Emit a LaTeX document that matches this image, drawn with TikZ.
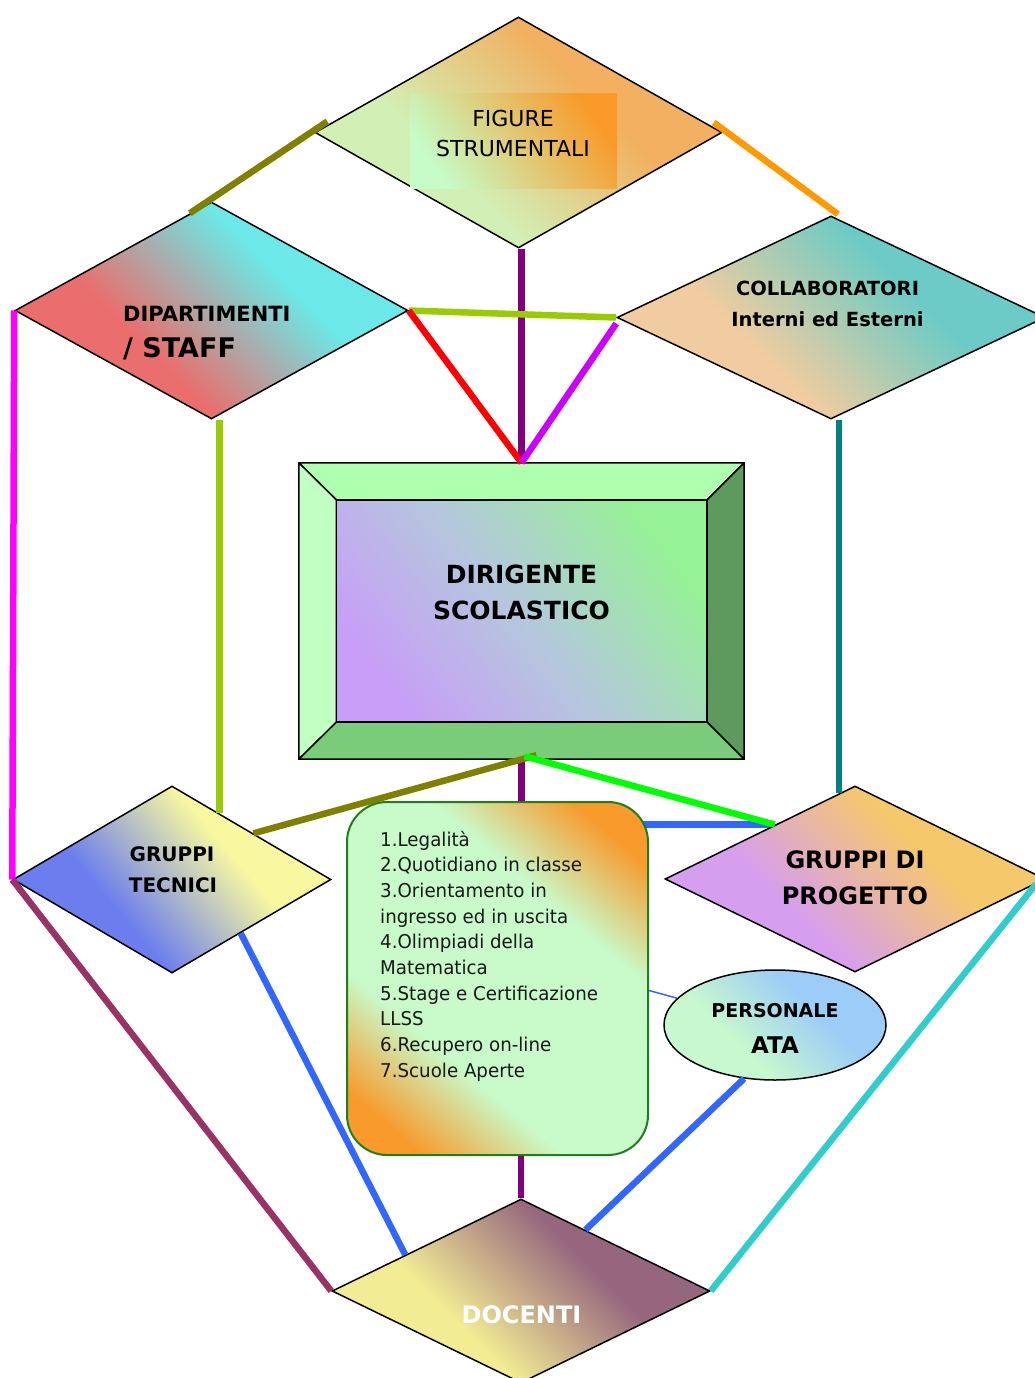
\documentclass[tikz,border=0pt]{standalone}
\usepackage{fontspec}
\setmainfont{DejaVu Sans}
\newfontfamily\listfont[FakeStretch=0.96]{DejaVu Sans}
\usetikzlibrary{shapes.geometric,calc}
\pgfdeclarelayer{background}
\pgfsetlayers{background,main}
% shape colours
\definecolor{fsA}{HTML}{F2B060}\definecolor{fsB}{HTML}{D2F0B6}
\definecolor{fsrA}{HTML}{F99A2A}\definecolor{fsrB}{HTML}{C6FCC8}
\definecolor{dipA}{HTML}{6CE8E8}\definecolor{dipB}{HTML}{EA6E6E}
\definecolor{colA}{HTML}{6CCBC6}\definecolor{colB}{HTML}{F0CCA0}
\definecolor{dirA}{HTML}{96F296}\definecolor{dirB}{HTML}{C89EF8}\definecolor{dirM}{HTML}{B4C8DC}
\definecolor{bvTop}{HTML}{AEFFAE}\definecolor{bvLeft}{HTML}{C2FFC2}
\definecolor{bvRight}{HTML}{5E9A5E}\definecolor{bvBot}{HTML}{7ACC7A}
\definecolor{gtA}{HTML}{F8F8A0}\definecolor{gtB}{HTML}{6C7EEE}
\definecolor{gdpA}{HTML}{F6C86C}\definecolor{gdpB}{HTML}{D69EEE}
\definecolor{paA}{HTML}{9CCCF8}\definecolor{paB}{HTML}{C8F8CE}
\definecolor{docA}{HTML}{96667E}\definecolor{docB}{HTML}{F2EC94}
\definecolor{lstO}{HTML}{F89A2C}\definecolor{lstG}{HTML}{C8FACA}
\definecolor{lstBorder}{HTML}{1F7F1F}
% connector colours
\definecolor{cOlive}{HTML}{808000}\definecolor{cOr}{HTML}{FF9900}
\definecolor{cPur}{HTML}{800080}\definecolor{cYg}{HTML}{99CC00}
\definecolor{cRed}{HTML}{FF0000}\definecolor{cVio}{HTML}{CC00FF}
\definecolor{cMag}{HTML}{FF00FF}\definecolor{cTeal}{HTML}{008080}
\definecolor{cGrn}{HTML}{00FF00}\definecolor{cBlue}{HTML}{3366FF}
\definecolor{cMar}{HTML}{993366}\definecolor{cTur}{HTML}{33CCCC}
% shadings: colour B (bottom-left) to colour A (top-right)
\newcommand{\mkshade}[3]{\pgfdeclareverticalshading{#1}{100bp}{color(0bp)=(#3); color(38bp)=(#3); color(62bp)=(#2); color(100bp)=(#2)}}
\mkshade{fsSh}{fsA}{fsB}
\mkshade{dipSh}{dipA}{dipB}
\mkshade{colSh}{colA}{colB}
\mkshade{gtSh}{gtA}{gtB}
\mkshade{gdpSh}{gdpA}{gdpB}
\mkshade{paSh}{paA}{paB}
\mkshade{docSh}{docA}{docB}
\pgfdeclareverticalshading{lstSh}{100bp}{color(0bp)=(lstO); color(22bp)=(lstO);
  color(36bp)=(lstG); color(64bp)=(lstG); color(78bp)=(lstO); color(100bp)=(lstO)}
\newcommand{\fsz}[1]{\fontsize{#1pt}{#1pt}\selectfont}
\begin{document}
\begin{tikzpicture}[x=1pt,y=-1pt,
  dia/.style={diamond, draw=black, line width=1.5pt, inner sep=0pt, shade},
  lbl/.style={inner sep=0pt, anchor=base, text=black},
  con/.style={line width=6.5pt},
  listtxt/.style={inner sep=0pt, anchor=base west, text=black!90, font=\listfont\fsz{19}}]
\useasboundingbox (0,0) rectangle (1035,1378);
\clip (0,0) rectangle (1035,1378);

% ---------- shapes ----------
\node[dia, minimum width=407pt, minimum height=231pt, shading=fsSh, shading angle=-45] (fs) at (518.5,132.5) {};
\node[inner sep=0pt, minimum width=207pt, minimum height=94pt, top color=fsrA, bottom color=fsrB, shading angle=-55] (fsr) at (513.5,141) {};
\node[dia, minimum width=393pt, minimum height=217pt, shading=dipSh, shading angle=-45] (dip) at (211.5,310.5) {};
\node[dia, minimum width=428pt, minimum height=203pt, shading=colSh, shading angle=-45] (col) at (831,317.5) {};

% Dirigente bevelled box
\node[rectangle, inner sep=0pt, minimum width=445pt, minimum height=296pt] (dir) at (521.5,611) {};
\coordinate (inw) at ([shift={(37.5,37)}]dir.north west);
\coordinate (ine) at ([shift={(-37,37)}]dir.north east);
\coordinate (isw) at ([shift={(37.5,-37)}]dir.south west);
\coordinate (ise) at ([shift={(-37,-37)}]dir.south east);
\begin{scope}[draw=black, line width=1.5pt, line join=round]
\filldraw[fill=bvTop] (dir.north west) -- (dir.north east) -- (ine) -- (inw) -- cycle;
\filldraw[fill=bvLeft] (dir.north west) -- (inw) -- (isw) -- (dir.south west) -- cycle;
\filldraw[fill=bvRight] (dir.north east) -- (ine) -- (ise) -- (dir.south east) -- cycle;
\filldraw[fill=bvBot] (dir.south west) -- (isw) -- (ise) -- (dir.south east) -- cycle;
\shadedraw[top color=dirA, bottom color=dirB, middle color=dirM, shading angle=-52] (inw) rectangle (ise);
\end{scope}

\node[dia, minimum width=318pt, minimum height=187pt, shading=gtSh, shading angle=-50] (gt) at (172,879.5) {};
\node[dia, minimum width=380pt, minimum height=186pt, shading=gdpSh, shading angle=-45] (gdp) at (855,879) {};
\node[rectangle, rounded corners=40pt, draw=lstBorder, line width=2pt, inner sep=0pt,
      minimum width=301pt, minimum height=353pt,
      shade, shading=lstSh, shading angle=-40.5] (lst) at (497.5,978.5) {};
\node[ellipse, draw=black, line width=1.5pt, inner sep=0pt, minimum width=222pt, minimum height=110pt,
      shade, shading=paSh, shading angle=-45] (pa) at (775,1025) {};
\node[dia, minimum width=378pt, minimum height=184pt, shading=docSh, shading angle=-45] (doc) at (521,1291) {};

% ---------- texts ----------
\node[lbl, font=\fsz{22}] (tfs1) at (513,127) {FIGURE};
\node[lbl, font=\fsz{22}] (tfs2) at (513,157) {STRUMENTALI};
\node[lbl, anchor=base west, font=\fsz{21}\bfseries] (tdip1) at (123,321) {DIPARTIMENTI};
\node[lbl, anchor=base west, font=\fsz{27}\bfseries] (tdip2) at (123,357) {/ STAFF};
\node[lbl, font=\fsz{19.5}\bfseries] (tcol1) at (827.5,295) {COLLABORATORI};
\node[lbl, font=\fsz{19.5}\bfseries] (tcol2) at (827.5,326) {Interni ed Esterni};
\node[lbl, font=\fsz{25}\bfseries] (tdir1) at (521.5,583) {DIRIGENTE};
\node[lbl, font=\fsz{25}\bfseries] (tdir2) at (521.5,619) {SCOLASTICO};
\node[lbl, font=\fsz{20}\bfseries] (tgt1) at (172,861) {GRUPPI};
\node[lbl, font=\fsz{20}\bfseries] (tgt2) at (173,892) {TECNICI};
\node[lbl, font=\fsz{24}\bfseries] (tgdp1) at (855,868) {GRUPPI DI};
\node[lbl, font=\fsz{24}\bfseries] (tgdp2) at (855,904) {PROGETTO};
\node[lbl, font=\fsz{19}\bfseries] (tpa1) at (775,1017) {PERSONALE};
\node[lbl, font=\fsz{23}\bfseries] (tpa2) at (775,1053) {ATA};
\node[lbl, font=\fsz{24}\bfseries, text=white] (tdoc) at (521.5,1323) {DOCENTI};
\foreach \t [count=\i] in {1.Legalità, 2.Quotidiano in classe, 3.Orientamento in,
  ingresso ed in uscita, 4.Olimpiadi della, Matematica, 5.Stage e Certificazione,
  LLSS, 6.Recupero on-line, 7.Scuole Aperte}
  \node[listtxt] (li\i) at (380,{846+25.7*(\i-1)}) {\t};

% ---------- connectors behind shapes ----------
\coordinate (gdpG) at ($(gdp.north)!0.42!(gdp.west)$);
\begin{pgfonlayer}{background}
\draw[con, cBlue] (lst.center |- gdpG) -- (gdpG);
\draw[cBlue, line width=1.5pt] ([yshift=-12pt]lst.east) -- (pa);
\end{pgfonlayer}

% ---------- connectors ----------
\draw[con, cOlive] ($(dip.north)!0.11!(dip.west)$) -- ([shift={(13,-11)}]fs.west);
\draw[con, cOr] ([shift={(-9,-10)}]fs.east) -- ([shift={(7,-1)}]col.north);
\draw[con, cPur] (dir.north |- fs.south) -- (dir.north);
\draw[con, cPur] (dir.south) -- (dir.south |- lst.north);
\draw[con, cPur] (doc.north |- lst.south) -- (doc.north);
\draw[con, cYg] (dip.east) -- (col.west);
\draw[con, cRed] (dip.east) -- (dir.north);
\draw[con, cVio] ([shift={(0,6)}]col.west) -- (dir.north);
\coordinate (ygB) at ($(gt.north)!0.296!(gt.east)$);
\draw[con, cYg] (ygB |- dip.south) -- (ygB);
\draw[con, cMag] (dip.west) -- (gt.west);
\coordinate (tlB) at ($(gdp.north)!0.084!(gdp.west)$);
\draw[con, cTeal] (tlB |- col.south) -- (tlB);
\draw[con, cOlive] ($(gt.north)!0.51!(gt.east)$) -- ([shift={(15,-4)}]dir.south);
\draw[con, cGrn] ([shift={(3,-3)}]dir.south) -- (gdpG);
\draw[con, cBlue] ($(gt.south)!0.43!(gt.east)$) -- ($(doc.west)!0.39!(doc.north)$);
\draw[con, cBlue] (pa.240) -- ($(doc.north)!0.34!(doc.east)$);
\draw[con, cMar] (gt.west) -- (doc.west);
\draw[con, cTur] (doc.east) -- ($(gdp.south)!0.95!(gdp.east)$);
\end{tikzpicture}
\end{document}
